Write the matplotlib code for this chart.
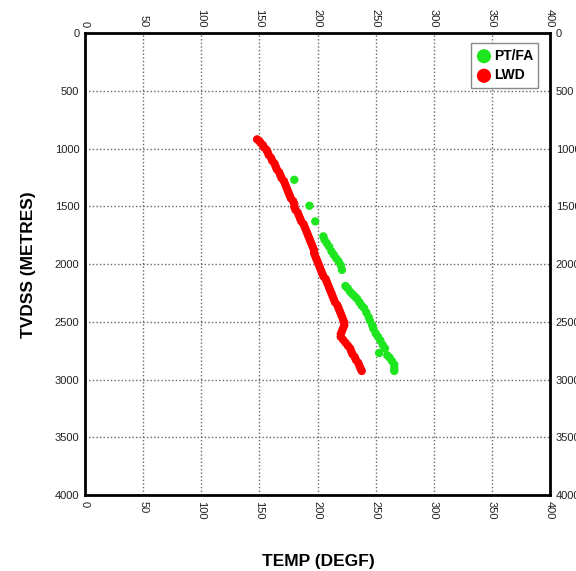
import numpy as np
import matplotlib
matplotlib.use('Agg')
import matplotlib.pyplot as plt

plt.rcParams['font.family'] = ['Liberation Sans', 'DejaVu Sans']

# LWD (rojo): profundidad (m) y temperatura (degF)
lwd_depth = [920, 935, 950, 970, 990, 1010, 1030, 1055, 1080, 1105, 1130, 1155, 1180,
             1205, 1230, 1255, 1280, 1305, 1330, 1355, 1380, 1405, 1430, 1455, 1480,
             1505, 1530, 1555, 1580, 1605, 1630, 1655, 1680, 1705, 1730, 1755, 1780,
             1805, 1830, 1855, 1880, 1905, 1930, 1955, 1980, 2005, 2030, 2055, 2080,
             2105, 2130, 2155, 2180, 2205, 2230, 2255, 2280, 2305, 2330, 2355, 2380,
             2405, 2430, 2455, 2480, 2505, 2530, 2555, 2580, 2605, 2630, 2655, 2680,
             2705, 2730, 2755, 2780, 2805, 2830, 2855, 2880, 2905, 2925]
lwd_temp = [148, 150, 151, 153, 154, 156, 157, 158, 160, 161, 163, 164, 165,
            167, 168, 169, 171, 172, 173, 174, 175, 176, 177, 179, 180,
            180, 181, 183, 184, 185, 186, 188, 189, 190, 191, 192, 193,
            194, 195, 196, 197, 197, 198, 199, 200, 201, 202, 203, 204,
            205, 207, 208, 209, 210, 211, 212, 213, 214, 215, 217, 218,
            219, 220, 221, 222, 223, 223, 222, 221, 220, 220, 222, 224,
            226, 228, 229, 230, 232, 233, 235, 236, 237, 238]

# PT/FA (verde)
ptfa_depth = [1270, 1495, 1630, 1760, 1790, 1820, 1850, 1890, 1920, 1950, 1975, 2010,
              2050, 2190, 2210, 2240, 2260, 2280, 2300, 2330, 2360, 2380, 2420, 2460,
              2490, 2530, 2560, 2600, 2630, 2660, 2700, 2730, 2770, 2790, 2810, 2840,
              2870, 2900, 2925]
ptfa_temp = [180, 193, 198, 205, 206, 208, 210, 212, 214, 216, 218, 220,
             221, 224, 226, 228, 230, 232, 234, 236, 238, 240, 242, 244,
             245, 247, 248, 250, 252, 254, 256, 258, 253, 260, 262, 264,
             266, 266, 266]

x_ticks = np.arange(0, 401, 50)
y_ticks = np.arange(0, 4001, 500)

fig = plt.figure(figsize=(5.76, 5.71), dpi=100)
ax = fig.add_axes([0.1476, 0.133, 0.8074, 0.809])

ax.scatter(ptfa_temp, ptfa_depth, s=36, color='#1ee61e', edgecolors='none', label='PT/FA', zorder=3)
ax.scatter(lwd_temp, lwd_depth, s=36, color='#ff0000', edgecolors='none', label='LWD', zorder=3)

ax.set_xlim(0, 400)
ax.set_ylim(4000, 0)
ax.set_xticks(x_ticks)
ax.set_yticks(y_ticks)
ax.grid(True, color='#666666', linestyle=(0, (1, 1.6)), linewidth=1.0)

ax.tick_params(axis='both', length=0, labelsize=8, labelcolor='#222222',
               top=True, labeltop=True, right=True, labelright=True, pad=4)
ax.tick_params(axis='x', labelrotation=270)

for sp in ax.spines.values():
    sp.set_linewidth(2)
    sp.set_color('black')

# etiquetas de ejes en posicion fija
fig.text(0.553, 0.016, 'TEMP (DEGF)', fontsize=12.5, fontweight='bold',
         ha='center', va='center')
fig.text(0.049, 0.536, 'TVDSS (METRES)', fontsize=12.5, fontweight='bold',
         ha='center', va='center', rotation=90)

leg = ax.legend(loc='upper right', bbox_to_anchor=(0.99, 0.993),
                prop={'weight': 'bold', 'size': 10}, fancybox=False, edgecolor='#888888',
                framealpha=1, handletextpad=0.2, borderpad=0.4, labelspacing=0.4,
                handlelength=1.0, markerscale=1.7)

fig.savefig('out.png', dpi=100)
